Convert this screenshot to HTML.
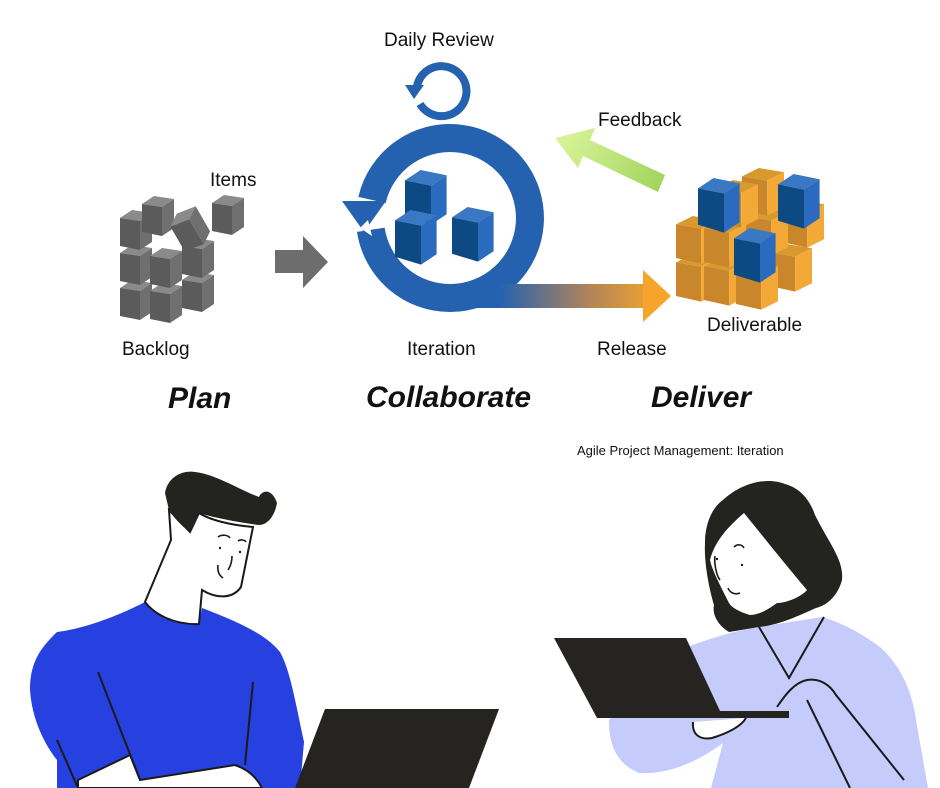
<!DOCTYPE html>
<html><head><meta charset="utf-8"><style>
html,body{margin:0;padding:0;background:#fff}
svg{display:block}
text{font-family:"Liberation Sans",sans-serif;fill:#111}
.b{font-weight:bold;font-style:italic;font-size:30px}
</style></head><body>
<svg width="940" height="788" viewBox="0 0 940 788" xmlns="http://www.w3.org/2000/svg">
<defs>
<linearGradient id="rel" x1="500" y1="0" x2="660" y2="0" gradientUnits="userSpaceOnUse">
<stop offset="0" stop-color="#2462b0"/><stop offset="0.55" stop-color="#b0845a"/><stop offset="1" stop-color="#f7a52a"/></linearGradient>
<linearGradient id="fb" x1="665" y1="190" x2="560" y2="135" gradientUnits="userSpaceOnUse">
<stop offset="0" stop-color="#9fd35a"/><stop offset="1" stop-color="#d9f59a"/></linearGradient>
<g id="cb"><path d="M0 8 L12 0 L32 4 L20 12Z" fill="#3b78c4"/><path d="M0 8 L20 12 L20 42 L0 36Z" fill="#0d4a84"/><path d="M20 12 L32 4 L32 34 L20 42Z" fill="#2a6bbf"/></g>
<g id="gc"><path d="M0 8 L12 0 L32 3 L20 11Z" fill="#8a8a8a"/><path d="M0 8 L20 11 L20 40 L0 36Z" fill="#5b5b5b"/><path d="M20 11 L32 3 L32 32 L20 40Z" fill="#6f6f6f"/></g>
<g id="oc"><path d="M0 6 L12 0 L30 3 L18 9Z" fill="#d89a2f"/><path d="M0 6 L18 9 L18 34 L0 30Z" fill="#c9862a"/><path d="M18 9 L30 3 L30 28 L18 34Z" fill="#f2a936"/></g>
</defs>

<text x="384" y="46" font-size="19">Daily Review</text>
<text x="598" y="126" font-size="19">Feedback</text>
<text x="210" y="186" font-size="19">Items</text>
<text x="122" y="355" font-size="19">Backlog</text>
<text x="407" y="355" font-size="19">Iteration</text>
<text x="597" y="355" font-size="19">Release</text>
<text x="707" y="331" font-size="19">Deliverable</text>
<text class="b" x="168" y="408">Plan</text>
<text class="b" x="366" y="407">Collaborate</text>
<text class="b" x="651" y="407">Deliver</text>
<text x="577" y="455" font-size="13">Agile Project Management: Iteration</text>

<path d="M417 86 A25 25 0 1 1 420 104" fill="none" stroke="#2462b0" stroke-width="8"/>
<path d="M405 85 L424 85 L414 99Z" fill="#2462b0"/>

<path d="M372 200 A80 80 0 1 1 450 298" fill="none" stroke="#2462b0" stroke-width="28"/>
<path d="M372 200 A80 80 0 0 0 450 298" fill="none" stroke="#2462b0" stroke-width="28" stroke-dasharray="0 30 400"/>
<path d="M342 201 L386 201 L364 232Z" fill="#2462b0"/>
<path d="M360 228 L368 220 L372 236Z" fill="#fff"/>
<rect x="450" y="284" width="195" height="24" fill="url(#rel)"/>
<path d="M643 270 L671 296 L643 322Z" fill="#f7a52a"/>
<use href="#cb" transform="translate(405 170) scale(1.3)"/>
<use href="#cb" transform="translate(395 210) scale(1.3)"/>
<use href="#cb" transform="translate(452 207) scale(1.3)"/>

<path d="M275 250 L303 250 L303 236 L328 262 L303 288 L303 273 L275 273Z" fill="#6d6d6d"/>

<use href="#gc" x="120" y="280"/><use href="#gc" x="150" y="283"/><use href="#gc" x="182" y="272"/>
<use href="#gc" x="120" y="245"/><use href="#gc" x="150" y="248"/><use href="#gc" x="182" y="238"/>
<use href="#gc" x="120" y="210"/><use href="#gc" x="142" y="196"/>
<g transform="rotate(-30 192 228)"><use href="#gc" x="174" y="208"/></g>
<use href="#gc" x="212" y="195"/>

<path d="M665 175 L590 140 L595 128 L555 138 L578 168 L583 156 L658 192Z" fill="url(#fb)"/>

<use href="#oc" transform="translate(770 244) scale(1.4)"/>
<use href="#oc" transform="translate(782 200) scale(1.4)"/>
<use href="#oc" transform="translate(676 254) scale(1.4)"/>
<use href="#oc" transform="translate(704 258) scale(1.4)"/>
<use href="#oc" transform="translate(736 262) scale(1.4)"/>
<use href="#oc" transform="translate(676 216) scale(1.4)"/>
<use href="#oc" transform="translate(704 220) scale(1.4)"/>
<use href="#oc" transform="translate(746 208) scale(1.4)"/>
<use href="#oc" transform="translate(742 168) scale(1.4)"/>
<use href="#oc" transform="translate(716 180) scale(1.4)"/>
<use href="#cb" transform="translate(698 178) scale(1.3)"/>
<use href="#cb" transform="translate(778 174) scale(1.3)"/>
<use href="#cb" transform="translate(734 228) scale(1.3)"/>

<path d="M145 602 C130 610 90 628 57 632 C38 650 30 665 30 690 C32 720 45 745 57 760 L57 788 L300 788 L304 742 C295 700 290 670 280 652 C270 640 255 628 202 608 L199 624 C175 625 155 615 145 602Z" fill="#2740e0"/>
<path d="M169 510 L171 540 L145 602 C155 615 175 625 199 624 L202 590 C215 598 232 600 241 587 L253 527 C230 525 210 520 199 513 L190 532 Z" fill="#fff" stroke="#1a1a1a" stroke-width="2"/>
<path d="M165 493 C168 475 185 470 195 472 C215 474 240 490 259 497 C262 490 272 488 277 503 C275 515 268 525 259 525 C235 522 212 517 199 513 L190 532 C180 525 172 515 169 510 Z" fill="#232320"/>
<path d="M218 537 C222 534 228 535 230 538 M238 541 C241 539 245 540 246 542 M218 565 C217 572 220 576 223 578 M232 556 C232 565 229 568 228 570" fill="none" stroke="#1a1a1a" stroke-width="1.6"/>
<circle cx="220" cy="548" r="1.2" fill="#1a1a1a"/><circle cx="240" cy="552" r="1.2" fill="#1a1a1a"/>
<path d="M98 672 L140 780 M253 682 L245 765 M57 740 L78 788" stroke="#1a1a1a" stroke-width="2" fill="none"/>
<path d="M78 780 L130 755 L140 780 L235 765 C250 770 258 780 262 788 L78 788Z" fill="#fff" stroke="#1a1a1a" stroke-width="2"/>
<path d="M325 709 L499 709 L469 788 L295 788Z" fill="#252420"/>

<path d="M687 647 C720 635 740 630 759 627 L822 617 C850 625 870 640 880 647 C900 665 912 690 916 720 L928 788 L711 788 L723 743 C700 760 670 775 639 773 C620 765 609 750 609 720 Z" fill="#c5ccfb"/>
<path d="M783 573 C778 585 780 600 790 604 L800 603 Z" fill="#c5ccfb"/>
<path d="M759 627 L789 678 L824 617" fill="none" stroke="#1a1a1a" stroke-width="2"/>
<path d="M705 543 C705 520 715 505 723 500 C745 480 770 478 785 484 C800 488 810 500 815 515 C830 545 844 560 842 580 C838 595 828 605 816 608 C800 615 780 625 759 627 L729 632 C718 625 712 615 714 605 C708 585 704 560 705 543Z" fill="#232320"/>
<path d="M744 513 C770 545 790 570 807 590 C800 598 785 603 777 603 C770 608 760 615 750 615 C740 612 732 608 729 603 C720 585 712 570 710 560 C715 540 730 525 744 513Z" fill="#fff"/>
<path d="M734 547 C737 544 742 544 744 548 M715 556 C714 562 716 575 720 580 M728 588 C730 593 735 595 740 593" fill="none" stroke="#1a1a1a" stroke-width="1.6"/>
<circle cx="717" cy="559" r="1.2" fill="#1a1a1a"/><circle cx="742" cy="565" r="1.2" fill="#1a1a1a"/>
<path d="M554 638 L686 638 L720 711 L789 711 L789 718 L597 718Z" fill="#252420"/>
<path d="M693 722 C692 735 700 740 712 738 C725 734 740 728 746 718" fill="#fff" stroke="#1a1a1a" stroke-width="2"/>
<path d="M777 707 C785 695 795 682 807 680 C820 678 830 685 836 695 L904 780 M807 700 L850 788" fill="none" stroke="#1a1a1a" stroke-width="2"/>
</svg>
</body></html>
